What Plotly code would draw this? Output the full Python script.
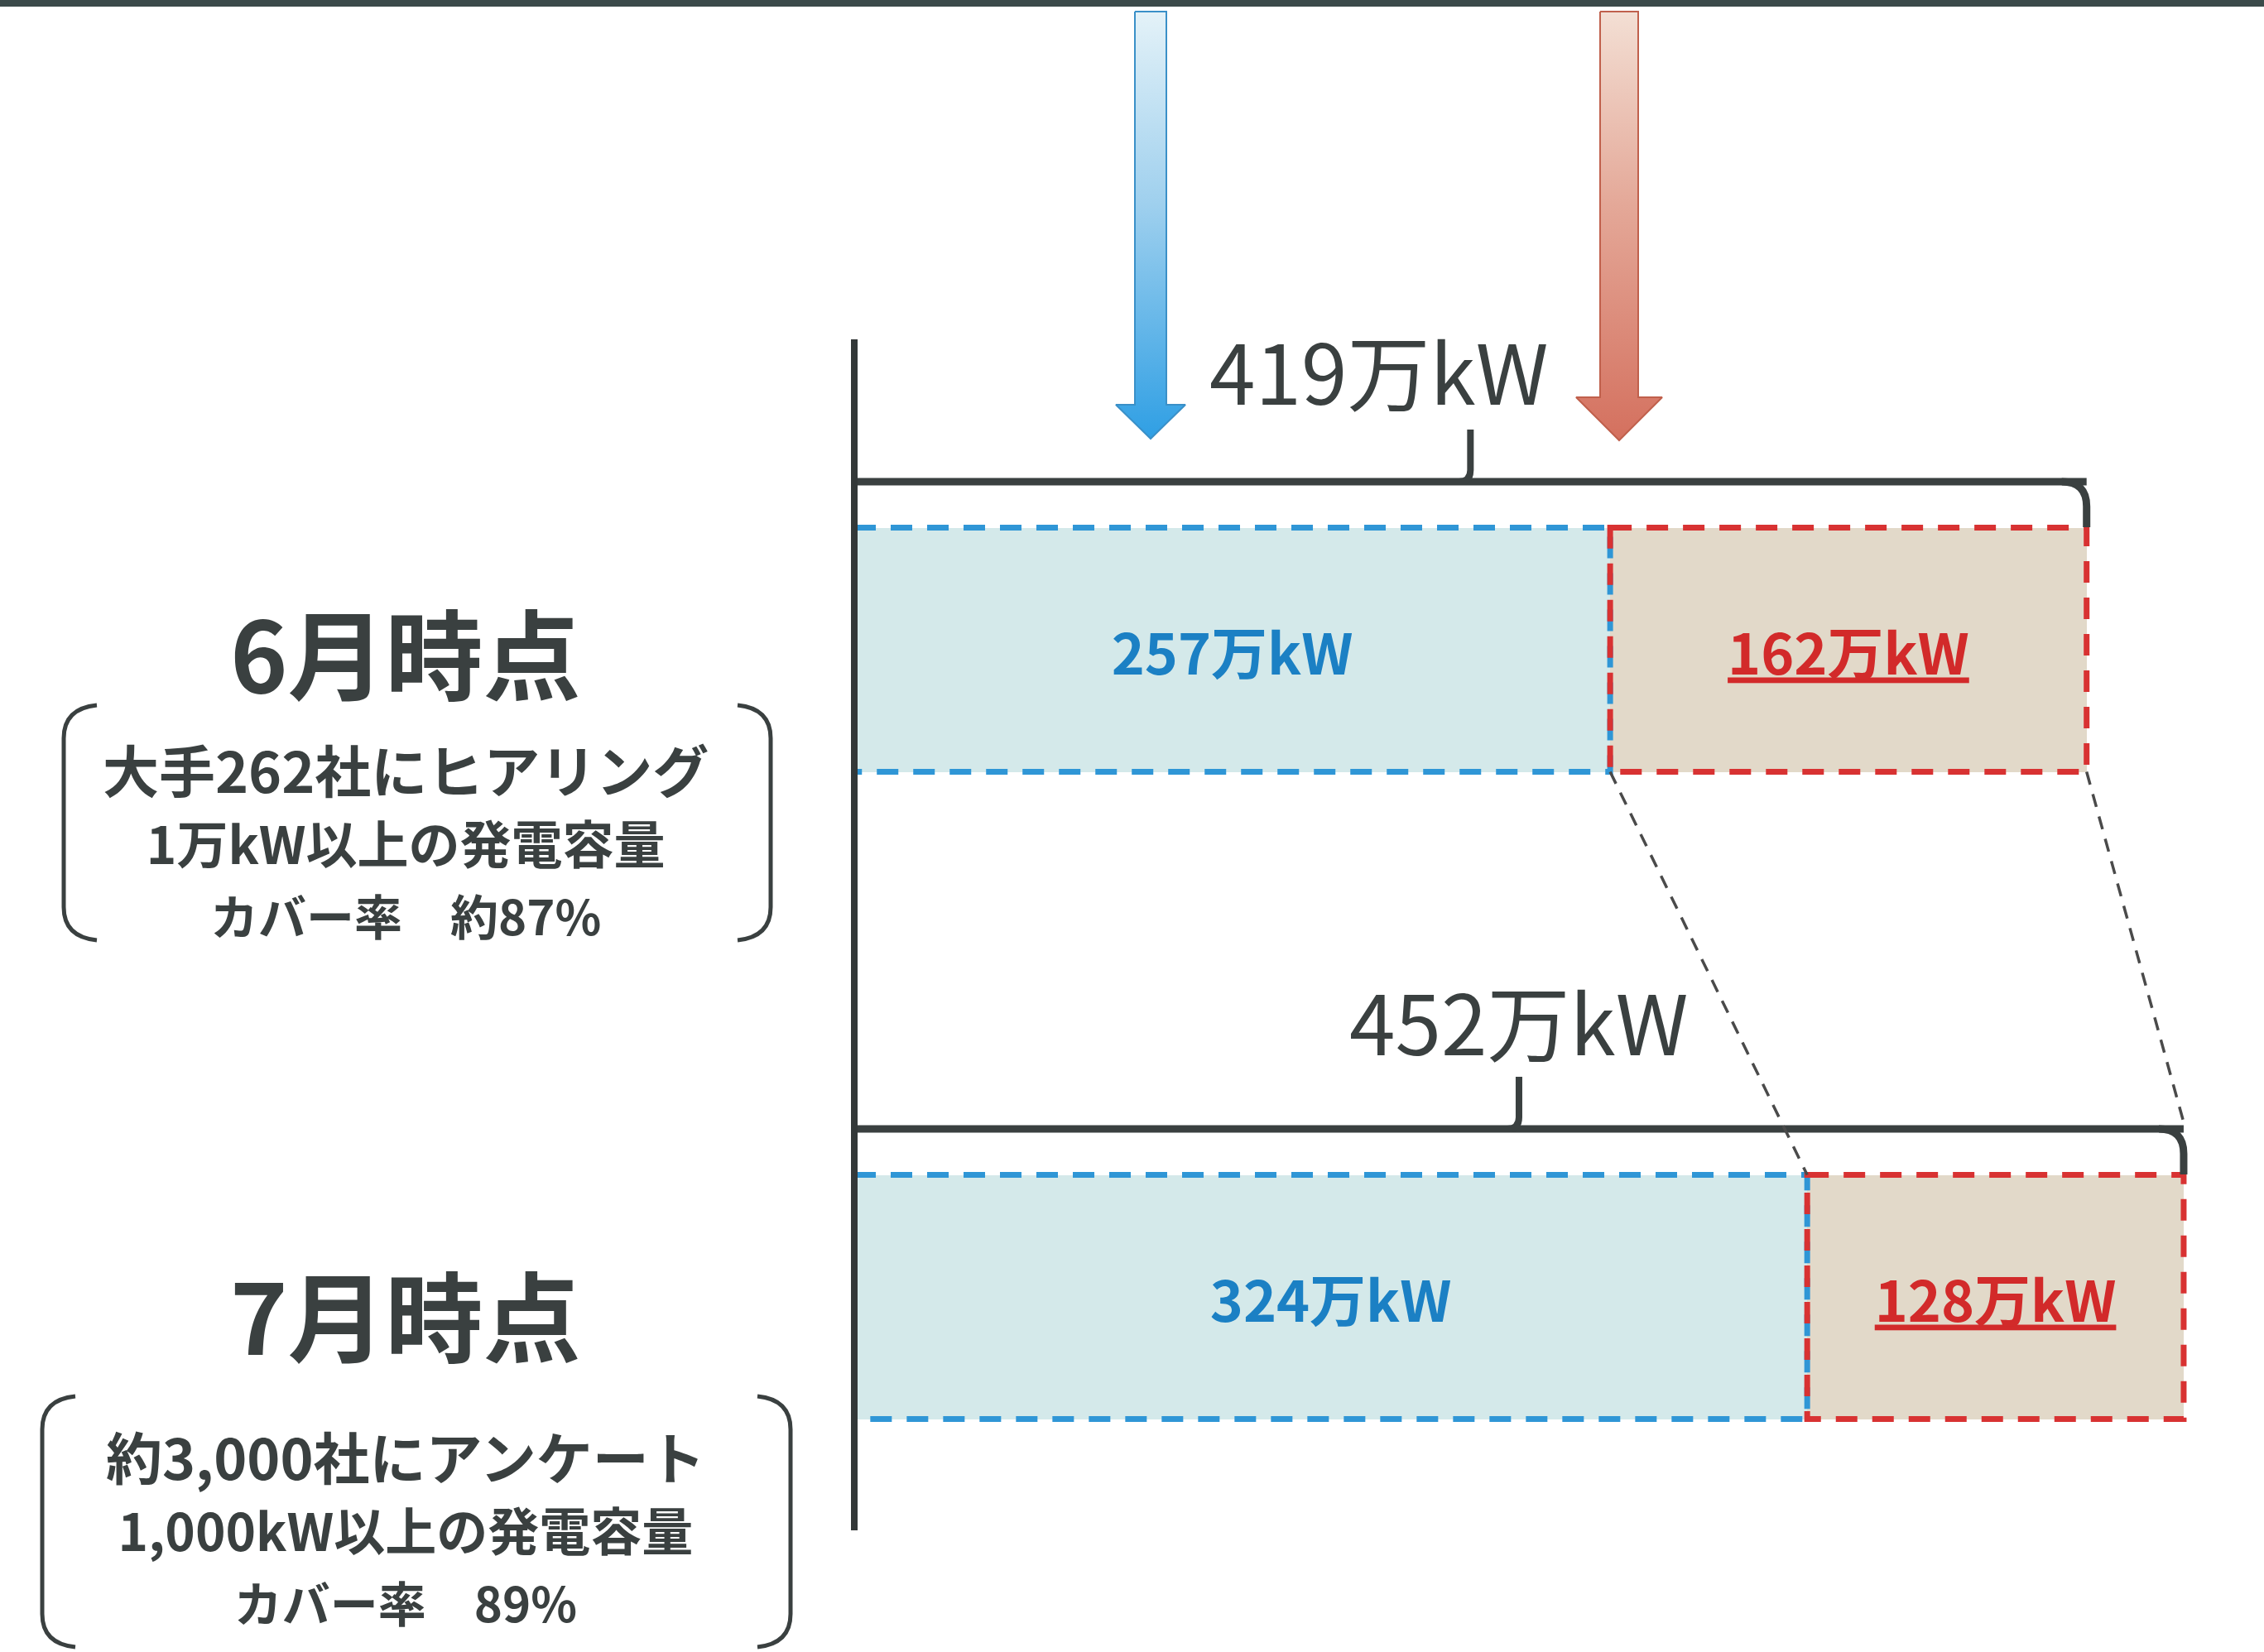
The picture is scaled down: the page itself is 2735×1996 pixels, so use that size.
import plotly.graph_objects as go

# ---------------- data ----------------
periods = ["6月時点", "7月時点"]
known_capacity = [257, 324]      # 万kW (blue part)
unknown_capacity = [162, 128]    # 万kW (red part)
total_capacity = [419, 452]      # 万kW (bracket totals)
unit = "万kW"
survey_lines = [
    ["大手262社にヒアリング", "1万kW以上の発電容量", "カバー率　約87%"],
    ["約3,000社にアンケート", "1,000kW以上の発電容量", "カバー率　89%"],
]

# ---------------- layout constants ----------------
W, H = 2735, 1996
X0_PX = 1032          # pixel of value 0
PX_PER_UNIT = 3.553   # pixels per 万kW
ROW0_PX = 785         # pixel centre of first row
ROW_STEP = 782        # pixel distance between rows
BAR_W = 295 / ROW_STEP

FONT = "Noto Sans CJK JP"
DARK = "#3a4040"
BLUE_FILL = "#d4e9ea"
RED_FILL = "#e2d9c9"
BLUE_LINE = "#2f96d6"
RED_LINE = "#d83232"
BLUE_TEXT = "#1b80c4"
RED_TEXT = "#d22a2a"

x_range = [-X0_PX / PX_PER_UNIT, (W - X0_PX) / PX_PER_UNIT]
y_range = [(H - ROW0_PX) / ROW_STEP, -ROW0_PX / ROW_STEP]

fig = go.Figure()

fig.add_trace(go.Bar(
    y=periods, x=known_capacity, orientation="h", width=BAR_W,
    marker=dict(color=BLUE_FILL, line=dict(width=0)),
    texttemplate="<b>%{x}" + unit + "</b>", textposition="inside",
    insidetextanchor="middle", textangle=0, constraintext="none",
    textfont=dict(family=FONT, size=68, color=BLUE_TEXT),
    hoverinfo="skip",
))
fig.add_trace(go.Bar(
    y=periods, x=unknown_capacity, orientation="h", width=BAR_W,
    marker=dict(color=RED_FILL, line=dict(width=0)),
    texttemplate="<b><u>%{x}" + unit + "</u></b>", textposition="inside",
    insidetextanchor="middle", textangle=0, constraintext="none",
    textfont=dict(family=FONT, size=68, color=RED_TEXT),
    hoverinfo="skip",
))

# ---------------- arrows (decorative, pixel overlay) ----------------
def down_arrow(cx, hw, hh, top, head, tip):
    xs = [cx - hw, cx + hw, cx + hw, cx + hh, cx, cx - hh, cx - hw, cx - hw]
    ys = [top, top, head, head, tip, head, head, top]
    return xs, ys

# colorscale: 0 = bottom (tip), 1 = top
arrow_styles = [
    dict(cx=1390, hw=19, hh=42, top=14, head=489, tip=530,
         scale=[[0, "#2f9fe4"], [0.55, "#9fd0ee"], [1, "#e4f2f8"]], line="#3a90c8"),
    dict(cx=1956, hw=23, hh=52, top=14, head=480, tip=532,
         scale=[[0, "#d4705e"], [0.55, "#e4a898"], [1, "#f3dfd4"]], line="#c0604c"),
]
for a in arrow_styles:
    xs, ys = down_arrow(a["cx"], a["hw"], a["hh"], a["top"], a["head"], a["tip"])
    fig.add_trace(go.Scatter(
        x=xs, y=ys, xaxis="x2", yaxis="y2", mode="lines", fill="toself",
        fillgradient=dict(type="vertical", colorscale=a["scale"]),
        line=dict(color=a["line"], width=2), hoverinfo="skip",
    ))

shapes = []
# top band
shapes.append(dict(type="rect", xref="x2", yref="y2", x0=0, x1=W, y0=0, y1=8,
                   fillcolor="#3b4a4a", line=dict(width=0)))

BRACKET_UP = 203   # px above row centre
TICK_UP = 266
BAR_TOP_UP = 148
for i, (k, t) in enumerate(zip(known_capacity, total_capacity)):
    dash = "26px,18px"
    shapes.append(dict(type="rect", xref="x", yref="y", x0=0, x1=k,
                       y0=i - BAR_W / 2, y1=i + BAR_W / 2,
                       line=dict(color=BLUE_LINE, width=7, dash=dash)))
    shapes.append(dict(type="rect", xref="x", yref="y", x0=k, x1=t,
                       y0=i - BAR_W / 2, y1=i + BAR_W / 2,
                       line=dict(color=RED_LINE, width=7, dash=dash)))
    # bracket
    shapes.append(dict(type="line", xref="x", yref="y", x0=0, x1=t,
                       ysizemode="pixel", yanchor=i, y0=BRACKET_UP, y1=BRACKET_UP,
                       line=dict(color=DARK, width=9)))
    shapes.append(dict(type="path", xref="x", yref="y",
                       xsizemode="pixel", xanchor=t, ysizemode="pixel", yanchor=i,
                       path=f"M -30,{BRACKET_UP} Q 0,{BRACKET_UP} 0,{BRACKET_UP-30} L 0,{BAR_TOP_UP}",
                       line=dict(color=DARK, width=9)))
    shapes.append(dict(type="path", xref="x", yref="y",
                       xsizemode="pixel", xanchor=t / 2, ysizemode="pixel", yanchor=i,
                       path=f"M -14,{BRACKET_UP} Q 0,{BRACKET_UP} 0,{BRACKET_UP+14} L 0,{TICK_UP}",
                       line=dict(color=DARK, width=8)))

# dashed connectors between rows
shapes.append(dict(type="line", xref="x", yref="y",
                   x0=known_capacity[0], y0=0 + BAR_W / 2,
                   x1=known_capacity[1], y1=1 - BAR_W / 2,
                   line=dict(color="#4a4a4a", width=3.5, dash="16px,12px")))
shapes.append(dict(type="line", xref="x", yref="y",
                   x0=total_capacity[0], y0=0 + BAR_W / 2,
                   x1=total_capacity[1], y1=1 - (BRACKET_UP + 8) / ROW_STEP,
                   line=dict(color="#4a4a4a", width=3.5, dash="16px,12px")))

# vertical axis line
shapes.append(dict(type="line", xref="x", yref="y2", x0=0, x1=0, y0=410, y1=1849,
                   line=dict(color="#333838", width=8)))

# parentheses around survey descriptions (pixel overlay)
paren_boxes = [(77, 931, 852, 1136), (51, 955, 1687, 1990)]
for (xl, xr, yt, yb) in paren_boxes:
    c = 40
    shapes.append(dict(type="path", xref="x2", yref="y2",
                       path=f"M {xl+c},{yt} Q {xl},{yt+4} {xl},{yt+c} L {xl},{yb-c} Q {xl},{yb-4} {xl+c},{yb}",
                       line=dict(color=DARK, width=5)))
    shapes.append(dict(type="path", xref="x2", yref="y2",
                       path=f"M {xr-c},{yt} Q {xr},{yt+4} {xr},{yt+c} L {xr},{yb-c} Q {xr},{yb-4} {xr-c},{yb}",
                       line=dict(color=DARK, width=5)))

annotations = []
total_label_shift = [(-110, 340), (0, 336)]
for i, t in enumerate(total_capacity):
    dx, dy = total_label_shift[i]
    annotations.append(dict(x=t / 2, y=i, xref="x", yref="y", xshift=dx, yshift=dy,
                            xanchor="center", yanchor="middle",
                            text=f"{t}{unit}", showarrow=False,
                            font=dict(family=FONT, size=100, color=DARK)))

title_shift = [0, -18]
block_shift = [-228, -276]      # centre of the 3-line description block
block_base = [66, 66]           # base size -> line spacing
line_sizes = [68, 62, 58]
LEFT_X = 490 / W
for i, p in enumerate(periods):
    annotations.append(dict(x=LEFT_X, y=i, xref="paper", yref="y", yshift=title_shift[i],
                            xanchor="center", yanchor="middle",
                            text=f"<b>{p}</b>", showarrow=False,
                            font=dict(family=FONT, size=118, color=DARK)))
    block = "<br>".join(
        f"<span style='font-size:{line_sizes[j]}px'><b>{ln}</b></span>"
        for j, ln in enumerate(survey_lines[i]))
    annotations.append(dict(x=LEFT_X, y=i, xref="paper", yref="y", yshift=block_shift[i],
                            xanchor="center", yanchor="middle", align="center",
                            text=block, showarrow=False,
                            font=dict(family=FONT, size=block_base[i], color=DARK)))

fig.update_layout(
    width=W, height=H, margin=dict(l=0, r=0, t=0, b=0),
    paper_bgcolor="white", plot_bgcolor="white",
    barmode="stack", showlegend=False,
    xaxis=dict(type="linear", range=x_range, visible=False, fixedrange=True),
    yaxis=dict(type="category", categoryorder="array", categoryarray=periods,
               range=y_range, visible=False, fixedrange=True),
    xaxis2=dict(overlaying="x", anchor="y2", range=[0, W], visible=False, fixedrange=True),
    yaxis2=dict(overlaying="y", anchor="x2", range=[H, 0], visible=False, fixedrange=True),
    shapes=shapes, annotations=annotations,
)

fig.write_html("out.html")
